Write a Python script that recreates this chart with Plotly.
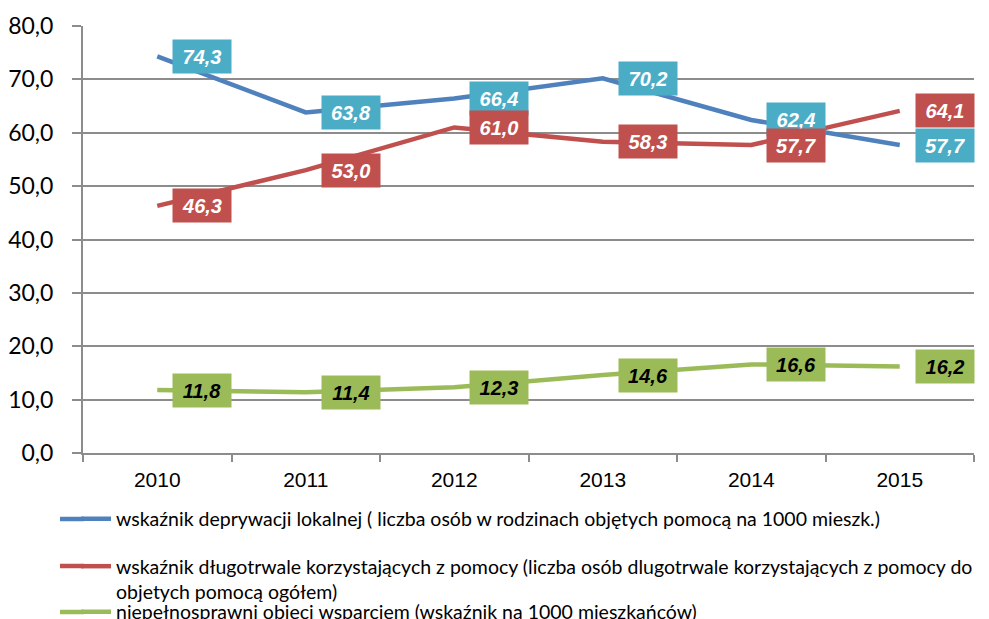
import plotly.graph_objects as go

years = ["2010", "2011", "2012", "2013", "2014", "2015"]
deprywacja = [74.3, 63.8, 66.4, 70.2, 62.4, 57.7]
dlugotrwale = [46.3, 53.0, 61.0, 58.3, 57.7, 64.1]
niepelnosprawni = [11.8, 11.4, 12.3, 14.6, 16.6, 16.2]

names = [
    "wskaźnik deprywacji lokalnej ( liczba osób w rodzinach objętych pomocą na 1000 mieszk.)",
    "wskaźnik długotrwale korzystających z pomocy (liczba osób dlugotrwale korzystających z pomocy do<br>objetych pomocą ogółem)",
    "niepełnosprawni objęci wsparciem (wskaźnik na 1000 mieszkańców)",
]
line_colors = ["#4F81BD", "#C0504D", "#9BBB59"]
label_bg = ["#4BACC6", "#C0504D", "#9BBB59"]
label_fg = ["#FFFFFF", "#FFFFFF", "#000000"]
series = [deprywacja, dlugotrwale, niepelnosprawni]
legend_ids = ["legend", "legend2", "legend3"]

# page body has an 8px margin, so the figure is drawn at (8, 8)
OFF = 8
W, H = 989 - OFF, 619 - OFF
PW, PH = 891, 427
ML, MT = 83 - OFF, 26 - OFF
MR, MB = W - ML - PW, H - MT - PH


def cx(px):
    return (px - OFF) / W


def cy(py):
    return 1 - (py - OFF) / H


def paper_x(px):
    return (px - OFF - ML) / PW


def paper_y(py):
    return (H - MB - (py - OFF)) / PH


fig = go.Figure()
for vals, name, col, lg in zip(series, names, line_colors, legend_ids):
    fig.add_trace(go.Scatter(
        x=years, y=vals, mode="lines", name=name,
        line=dict(color=col, width=4.5),
        legend=lg,
    ))

annotations = []
for vals, bg, fg in zip(series, label_bg, label_fg):
    for i, v in enumerate(vals):
        annotations.append(dict(
            x=i, y=v, xref="x", yref="y",
            text=f"{v:.1f}".replace(".", ","),
            showarrow=False, xanchor="left", yanchor="middle", xshift=15,
            bgcolor=bg, width=52, height=27, borderpad=3,
            font=dict(family="Liberation Sans, Arial", size=20, color=fg,
                      weight="bold", style="italic"),
        ))

legend_font = dict(family="Lato", size=19.5, color="#000000")
common_leg = dict(xanchor="left", font=legend_font, bgcolor="rgba(0,0,0,0)",
                  itemwidth=30, orientation="v", itemclick=False,
                  xref="container", yref="container")

# extend the short legend line samples to the left (legend decoration)
legend_sample_y = [519, 566, 612]
shapes = [
    dict(type="line", xref="paper", yref="paper",
         x0=paper_x(60), x1=paper_x(84), y0=paper_y(yy), y1=paper_y(yy),
         line=dict(color=col, width=4.5))
    for yy, col in zip(legend_sample_y, line_colors)
]

fig.update_layout(
    width=W, height=H,
    margin=dict(l=ML, r=MR, t=MT, b=MB, autoexpand=False),
    paper_bgcolor="white", plot_bgcolor="white",
    separators=", ",
    showlegend=True,
    legend=dict(x=cx(76), y=cy(519), yanchor="middle", **common_leg),
    legend2=dict(x=cx(76), y=cy(547), yanchor="top", valign="top", **common_leg),
    legend3=dict(x=cx(76), y=cy(612), yanchor="middle", **common_leg),
    xaxis=dict(
        type="category", showgrid=False, showline=True, linecolor="#8C8C8C",
        linewidth=2, ticks="outside", tickson="boundaries", ticklen=7,
        tickcolor="#8C8C8C", tickwidth=2, automargin=False,
        ticklabelstandoff=7,
        tickfont=dict(family="Liberation Sans, Arial", size=21, color="#000000"),
        range=[-0.5, 5.5], fixedrange=True,
    ),
    yaxis=dict(
        range=[0, 80], dtick=10, tickformat=".1f", showgrid=True,
        gridcolor="#8C8C8C", gridwidth=2, showline=True, linecolor="#8C8C8C",
        linewidth=2, ticks="outside", ticklen=9, tickcolor="#8C8C8C",
        tickwidth=2, zeroline=False, ticklabelstandoff=14, automargin=False,
        tickfont=dict(family="Lato", size=23, color="#000000"),
        fixedrange=True,
    ),
    annotations=annotations,
    shapes=shapes,
)

fig.write_html("out.html")
